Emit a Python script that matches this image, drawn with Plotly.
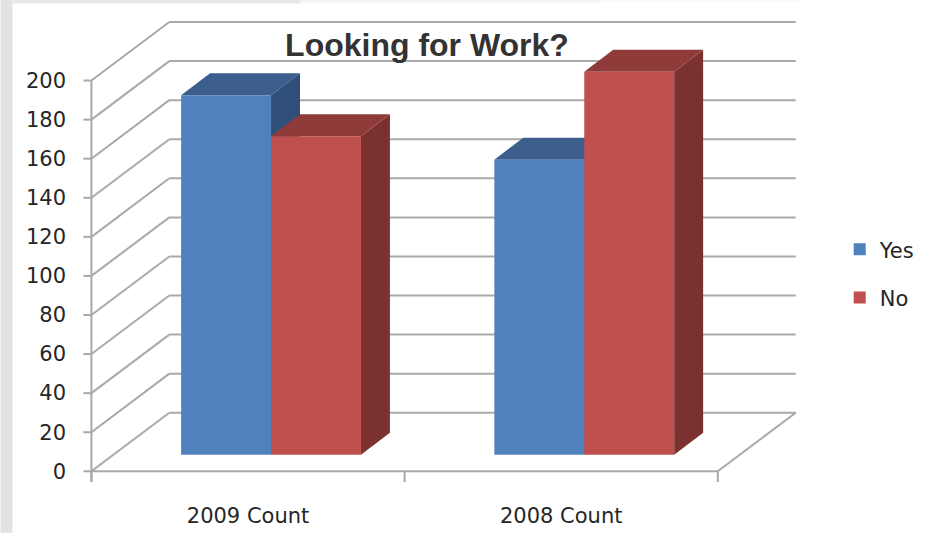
import plotly.graph_objects as go

categories = ["2009 Count", "2008 Count"]
yes_values = [184, 151]
no_values = [163, 196]
y_ticks = [0, 20, 40, 60, 80, 100, 120, 140, 160, 180, 200]

# look of the chart (pixels per data unit, 3-D offsets)
W, H = 927, 533
PX_X, PX_Y = 313.5, 1.9525
ORIGIN_X, ORIGIN_Y = 91, 471.5
WALL_DX, WALL_DY = 78 / PX_X, 58.5 / PX_Y
BAR_DX, BAR_DY = 29 / PX_X, 22 / PX_Y
BAR_BASE = 8.5
BAR_W = 90 / PX_X
YES_OFF, NO_OFF = -0.07, 0.2171
GRID = "#A9A9A9"
XR = [-0.03, 2.256]
YR = [-6, 231]

l = ORIGIN_X + XR[0] * PX_X
r = W - (ORIGIN_X + XR[1] * PX_X)
t = ORIGIN_Y - YR[1] * PX_Y
b = H - (ORIGIN_Y - YR[0] * PX_Y)
plot_w, plot_h = W - l - r, H - t - b


def px_x(p):
    return (p - l) / plot_w


def px_y(p):
    return (H - b - p) / plot_h


fig = go.Figure()


def add_depth(xc, value, top_color, side_color):
    x0, x1 = xc - BAR_W / 2, xc + BAR_W / 2
    v = BAR_BASE + value
    fig.add_trace(go.Scatter(
        x=[x1, x1 + BAR_DX, x1 + BAR_DX, x1, x1],
        y=[BAR_BASE, BAR_BASE + BAR_DY, v + BAR_DY, v, BAR_BASE],
        fill="toself", fillcolor=side_color, mode="none",
        showlegend=False, hoverinfo="skip"))
    fig.add_trace(go.Scatter(
        x=[x0, x1, x1 + BAR_DX, x0 + BAR_DX, x0],
        y=[v, v, v + BAR_DY, v + BAR_DY, v],
        fill="toself", fillcolor=top_color, mode="none",
        showlegend=False, hoverinfo="skip"))


positions = list(range(len(categories)))
for i in positions:
    add_depth(i + 0.5 + YES_OFF, yes_values[i], "#3B5E8C", "#2F4F78")
    add_depth(i + 0.5 + NO_OFF, no_values[i], "#8E3B39", "#7A312F")

fig.add_trace(go.Bar(
    name="Yes", x=[i + 0.5 + YES_OFF for i in positions], y=yes_values,
    base=BAR_BASE, width=BAR_W, marker=dict(color="#4F81BD", line_width=0),
    xaxis="x2", yaxis="y2", legendgroup="yes", hovertext=categories))
fig.add_trace(go.Bar(
    name="No", x=[i + 0.5 + NO_OFF for i in positions], y=no_values,
    base=BAR_BASE, width=BAR_W, marker=dict(color="#C0504D", line_width=0),
    xaxis="x2", yaxis="y2", legendgroup="no", hovertext=categories))

shapes = []


def seg(x0, y0, x1, y1, width=2):
    shapes.append(dict(type="line", layer="below", xref="x", yref="y",
                       x0=x0, y0=y0, x1=x1, y1=y1,
                       line=dict(color=GRID, width=width)))


n = len(categories)
for v in y_ticks:
    seg(0, v, WALL_DX, v + WALL_DY)
    seg(WALL_DX, v + WALL_DY, n + WALL_DX, v + WALL_DY)
    seg(-8 / PX_X, v, 0, v)
seg(0, -5.5, 0, y_ticks[-1])
seg(0, 0, n, 0)
seg(n, 0, n + WALL_DX, WALL_DY)
for i in range(n + 1):
    seg(i, 0, i, -5.5)

# the grey surround of the screenshot
for x0, x1, y0, y1, c in [
    (0, 12, 0, H, "#E3E3E3"),
    (12, 300, 0, 4, "#E8E8E8"),
    (300, 600, 0, 3, "#F2F2F2"),
    (600, 800, 0, 2, "#FAFAFA"),
]:
    shapes.append(dict(type="rect", layer="below", xref="paper", yref="paper",
                       x0=px_x(x0), x1=px_x(x1), y0=px_y(y0), y1=px_y(y1),
                       fillcolor=c, line_width=0))

fig.update_layout(
    template="none",
    width=W, height=H, autosize=False,
    margin=dict(l=l, r=r, t=t, b=b, pad=0, autoexpand=False),
    paper_bgcolor="white", plot_bgcolor="rgba(0,0,0,0)",
    barmode="overlay", shapes=shapes,
    font=dict(family="DejaVu Sans", size=21, color="#262626"),
    title=dict(text="<b>Looking for Work?</b>", x=427 / W, xanchor="center",
               y=1 - 45 / H, yanchor="middle",
               font=dict(family="Liberation Sans", size=32, color="#333333")),
    xaxis=dict(range=XR, automargin=False, showgrid=False, zeroline=False,
               showline=False, ticks="", tickmode="array",
               tickvals=[i + 0.5 for i in positions], ticktext=categories,
               ticklabelstandoff=18, tickfont=dict(size=21)),
    yaxis=dict(range=YR, automargin=False, showgrid=False, zeroline=False,
               showline=False, ticks="", tickmode="array", tickvals=y_ticks,
               ticklabelstandoff=15, tickfont=dict(size=21)),
    xaxis2=dict(range=XR, overlaying="x", visible=False),
    yaxis2=dict(range=YR, overlaying="y", visible=False),
    legend=dict(x=px_x(840), y=px_y(274), xanchor="left", yanchor="middle",
                traceorder="grouped", tracegroupgap=18,
                entrywidth=40, entrywidthmode="pixels",
                font=dict(size=21), bgcolor="rgba(0,0,0,0)"),
)

fig.write_html("out.html", config={"displayModeBar": False},
               post_script="document.body.style.margin='0';")
